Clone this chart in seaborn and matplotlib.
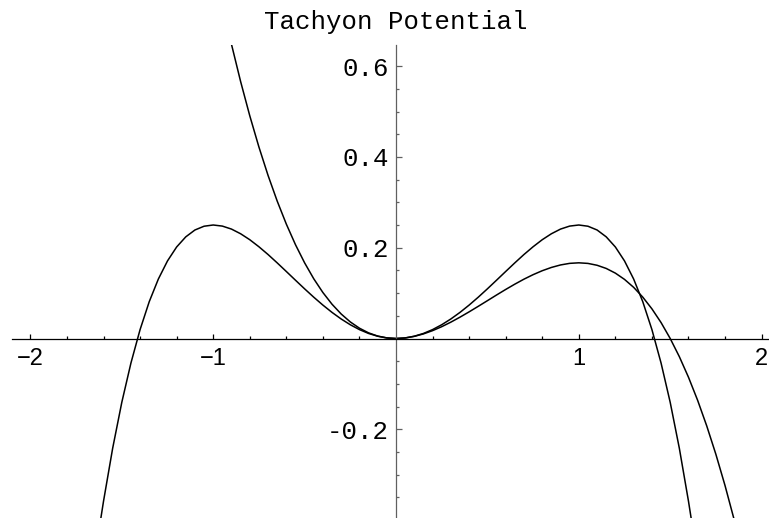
import numpy as np
import pandas as pd
import matplotlib
matplotlib.use("Agg")
import matplotlib.pyplot as plt
import seaborn as sns
from matplotlib.ticker import FixedLocator

# --- data ---
x_quartic = [-1.62, -1.6, -1.55, -1.5, -1.45, -1.4, -1.35, -1.3, -1.25, -1.2, -1.15, -1.1,
             -1.05, -1.0, -0.95, -0.9, -0.85, -0.8, -0.75, -0.7, -0.65, -0.6, -0.55, -0.5,
             -0.45, -0.4, -0.35, -0.3, -0.25, -0.2, -0.15, -0.1, -0.05, 0.0,
             0.05, 0.1, 0.15, 0.2, 0.25, 0.3, 0.35, 0.4, 0.45, 0.5, 0.55, 0.6, 0.65, 0.7,
             0.75, 0.8, 0.85, 0.9, 0.95, 1.0, 1.05, 1.1, 1.15, 1.2, 1.25, 1.3, 1.35, 1.4,
             1.45, 1.5, 1.55, 1.6, 1.62]
y_quartic = [-0.4097, -0.3584, -0.2418, -0.1406, -0.054, 0.0196, 0.081, 0.131, 0.1709,
             0.2016, 0.2239, 0.239, 0.2473, 0.25, 0.2476, 0.241, 0.2307, 0.2176, 0.2021,
             0.185, 0.1666, 0.1476, 0.1284, 0.1094, 0.091, 0.0736, 0.0575, 0.043, 0.0303,
             0.0196, 0.0111, 0.005, 0.0012, 0.0,
             0.0012, 0.005, 0.0111, 0.0196, 0.0303, 0.043, 0.0575, 0.0736, 0.091, 0.1094,
             0.1284, 0.1476, 0.1666, 0.185, 0.2021, 0.2176, 0.2307, 0.241, 0.2476, 0.25,
             0.2473, 0.239, 0.2239, 0.2016, 0.1709, 0.131, 0.081, 0.0196, -0.054, -0.1406,
             -0.2418, -0.3584, -0.4097]

x_cubic = [-0.94, -0.9, -0.85, -0.8, -0.75, -0.7, -0.65, -0.6, -0.55, -0.5, -0.45, -0.4,
           -0.35, -0.3, -0.25, -0.2, -0.15, -0.1, -0.05, 0.0, 0.05, 0.1, 0.15, 0.2, 0.25,
           0.3, 0.35, 0.4, 0.45, 0.5, 0.55, 0.6, 0.65, 0.7, 0.75, 0.8, 0.85, 0.9, 0.95,
           1.0, 1.05, 1.1, 1.15, 1.2, 1.25, 1.3, 1.35, 1.4, 1.45, 1.5, 1.55, 1.6, 1.65,
           1.7, 1.75, 1.8, 1.85, 1.9]
y_cubic = [0.7187, 0.648, 0.566, 0.4907, 0.4219, 0.3593, 0.3028, 0.252, 0.2067, 0.1667,
           0.1316, 0.1013, 0.0755, 0.054, 0.0365, 0.0227, 0.0124, 0.0053, 0.0013, 0.0,
           0.0012, 0.0047, 0.0101, 0.0173, 0.026, 0.036, 0.047, 0.0587, 0.0709, 0.0833,
           0.0958, 0.108, 0.1197, 0.1307, 0.1406, 0.1493, 0.1565, 0.162, 0.1655, 0.1667,
           0.1654, 0.1613, 0.1543, 0.144, 0.1302, 0.1127, 0.0911, 0.0653, 0.0351, 0.0,
           -0.04, -0.0853, -0.1361, -0.1927, -0.2552, -0.324, -0.3993, -0.4813]

x_tick_values = [-2, -1, 1, 2]
x_tick_labels = ["\u22122", "\u22121", "1", "2"]
y_tick_values = [-0.2, 0.2, 0.4, 0.6]
y_tick_labels = ["-0.2", "0.2", "0.4", "0.6"]
title = "Tachyon Potential"

df = pd.concat([
    pd.DataFrame({"x": x_quartic, "V": y_quartic, "curve": "quartic"}),
    pd.DataFrame({"x": x_cubic, "V": y_cubic, "curve": "cubic"}),
], ignore_index=True)

sns.set_style("white")

W, H = 769, 518
fig = plt.figure(figsize=(W / 100, H / 100), dpi=100)
top_px = 45
ax = fig.add_axes([0, 0, 1, (H - top_px) / H])

sns.lineplot(data=df, x="x", y="V", hue="curve", units="curve", estimator=None,
             sort=False, palette={"quartic": "black", "cubic": "black"},
             linewidth=1.1, legend=False, ax=ax)

x0_px, xs = 396.0, 182.8
y0_px, ys = 338.5, 454.0
ax.set_xlim(-x0_px / xs, (W - x0_px) / xs)
ax.set_ylim(-(H - y0_px) / ys, (y0_px - top_px) / ys)

ax.set_xlabel("")
ax.set_ylabel("")
for s in ["top", "right"]:
    ax.spines[s].set_visible(False)
ax.spines["left"].set_position("zero")
ax.spines["bottom"].set_position("zero")
ax.spines["bottom"].set_bounds(-2.1, 2.04)
ax.spines["bottom"].set_color("black")
ax.spines["left"].set_color("#606060")
ax.spines["bottom"].set_linewidth(0.9)
ax.spines["left"].set_linewidth(0.9)

ax.xaxis.set_major_locator(FixedLocator(x_tick_values))
ax.xaxis.set_minor_locator(FixedLocator([v / 10 for v in range(-20, 21, 2) if v % 10 != 0]))
ax.set_xticklabels(x_tick_labels, fontfamily="Liberation Sans", fontsize=17, color="black")
ax.yaxis.set_major_locator(FixedLocator(y_tick_values))
ax.yaxis.set_minor_locator(FixedLocator([v / 100 for v in range(-35, 65, 5) if v % 20 != 0]))
ax.set_yticklabels(y_tick_labels, fontfamily="Liberation Mono", fontsize=18.5, color="black")

ax.tick_params(axis="x", which="both", bottom=True, direction="in", color="black",
               width=0.9, pad=7)
ax.tick_params(axis="x", which="major", length=3.8)
ax.tick_params(axis="x", which="minor", length=2.3)
ax.tick_params(axis="y", which="both", left=True, direction="in", color="#606060",
               width=0.9, pad=5)
ax.tick_params(axis="y", which="major", length=4.0)
ax.tick_params(axis="y", which="minor", length=2.4)
ax.set_facecolor("white")

fig.text(396 / W, 1 - 22 / H, title, ha="center", va="center",
         fontfamily="Liberation Mono", fontsize=18.5, color="black")

fig.savefig("out.png", dpi=100, facecolor="white")
